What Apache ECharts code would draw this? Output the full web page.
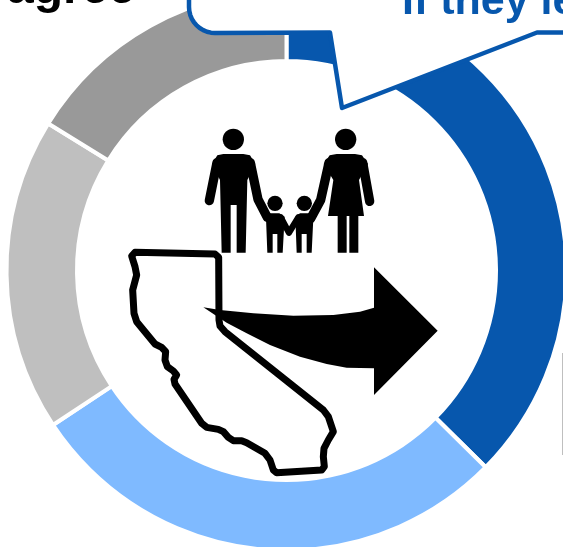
<!DOCTYPE html>
<html>
<head>
<meta charset="utf-8">
<style>
  html, body { margin: 0; padding: 0; background: #fff; }
  #main { width: 563px; height: 547px; }
</style>
<script src="https://cdn.jsdelivr.net/npm/echarts@6/dist/echarts.min.js"></script>
</head>
<body>
<div id="main"></div>
<script>
// share of each ring segment, clockwise from 12 o'clock
var segments = ['Segment 1', 'Segment 2', 'Segment 3', 'Segment 4'];
var shares = [37.4, 28.3, 18.1, 16.2];
var colors = ['#0757AD', '#7FBAFF', '#BFBFBF', '#999999'];
var blackLabel = 'agree';
var blueLabel = 'If they le';

var BLUE = '#0757AD';

var myChart = echarts.init(document.getElementById('main'));

// callout box, rounded bottom-left corner then the tail
var calloutPoints = [[189, -10]];
for (var i = 0; i <= 10; i++) {
  var a = Math.PI - (i / 10) * (Math.PI / 2);
  calloutPoints.push([215 + 26 * Math.cos(a), 7 + 26 * Math.sin(a)]);
}
calloutPoints.push([330, 32.5], [342, 108], [537, 32.5], [575, 32.5], [575, -10]);

var californiaPoints = [
  [45, 37], [285, 42], [296, 52], [297, 240], [300, 258], [315, 275], [610, 510], [625, 530],
  [640, 575], [625, 600], [612, 625], [610, 650], [613, 680], [605, 690], [470, 698], [460, 690],
  [450, 660], [435, 640], [380, 608], [365, 602], [340, 602], [325, 592], [310, 575], [295, 568],
  [260, 562], [245, 550], [165, 432], [162, 418], [170, 405], [160, 393], [142, 380], [135, 360],
  [137, 335], [125, 322], [105, 312], [50, 245], [42, 220], [38, 150], [50, 105], [45, 80], [35, 48]
];

var arrowPoints = [
  [250, 202], [300, 210], [400, 220], [520, 227], [640, 225], [720, 215], [762, 203],
  [762, 82], [953, 272], [762, 465], [762, 385], [680, 383], [620, 372], [540, 350],
  [450, 315], [380, 280], [320, 248]
];

function blob(points) {
  return { type: 'polygon', z: 10, shape: { points: points }, style: { fill: '#000' } };
}
function limb(points, width) {
  return {
    type: 'polyline', z: 10, shape: { points: points },
    style: { stroke: '#000', fill: 'none', lineWidth: width, lineCap: 'round', lineJoin: 'round' }
  };
}
function head(x, y, r) {
  return { type: 'circle', z: 10, shape: { cx: x, cy: y, r: r }, style: { fill: '#000' } };
}

// family icon, drawn in 3x coordinates and scaled down by the group
var family = [
  // man
  head(130, 58, 32),
  blob([[100, 102], [160, 102], [180, 106], [196, 132], [172, 180], [167, 398], [140, 398], [140, 255], [122, 255], [122, 398], [95, 398], [90, 180], [66, 132], [82, 106]]),
  limb([[81, 128], [58, 242]], 28),
  limb([[181, 128], [204, 238], [232, 292]], 28),
  // woman
  head(467, 58, 32),
  blob([[440, 102], [495, 102], [516, 106], [534, 132], [507, 180], [522, 288], [505, 288], [505, 398], [478, 398], [478, 288], [470, 288], [470, 398], [443, 398], [443, 288], [414, 288], [430, 180], [401, 132], [419, 106]]),
  limb([[417, 128], [392, 240], [362, 296]], 28),
  limb([[518, 128], [539, 244]], 28),
  // children
  head(255, 250, 23),
  blob([[238, 280], [268, 280], [284, 290], [278, 398], [262, 398], [262, 342], [248, 342], [248, 398], [232, 398], [228, 295]]),
  limb([[272, 292], [297, 338], [325, 292]], 19),
  head(343, 250, 23),
  blob([[330, 280], [358, 280], [370, 295], [365, 398], [350, 398], [350, 342], [335, 342], [335, 398], [320, 398], [316, 290]])
];

var option = {
  animation: false,
  series: [{
    type: 'pie',
    silent: true,
    center: [286.5, 270.5],
    radius: [209.5, 280],
    startAngle: 90,
    clockwise: true,
    label: { show: false },
    labelLine: { show: false },
    itemStyle: { borderColor: '#fff', borderWidth: 4 },
    data: segments.map(function (name, i) {
      return { name: name, value: shares[i], itemStyle: { color: colors[i] } };
    })
  }],
  graphic: [
    {
      type: 'polygon', z: 8, shape: { points: calloutPoints },
      style: { fill: '#fff', stroke: BLUE, lineWidth: 4.5, lineJoin: 'round' }
    },
    {
      type: 'text', z: 9, x: 7, y: -34,
      style: { text: blackLabel, fill: '#000', font: 'bold 48px "Liberation Sans"', verticalAlign: 'top' }
    },
    {
      type: 'text', z: 9, x: 402, y: -19,
      style: { text: blueLabel, fill: BLUE, font: 'bold 43px "Liberation Sans"', verticalAlign: 'top' }
    },
    { type: 'rect', z: 8, shape: { x: 562, y: 353, width: 1.5, height: 102 }, style: { fill: '#BFBFBF' } },
    { type: 'group', x: 190, y: 120, scaleX: 1 / 3, scaleY: 1 / 3, children: family },
    {
      type: 'group', x: 120, y: 240, scaleX: 1 / 3, scaleY: 1 / 3,
      children: [
        {
          type: 'polygon', z: 10, shape: { points: californiaPoints },
          style: { fill: 'none', stroke: '#000', lineWidth: 21, lineJoin: 'round' }
        },
        { type: 'polygon', z: 11, shape: { points: arrowPoints }, style: { fill: '#000' } }
      ]
    }
  ]
};

myChart.setOption(option);
</script>
</body>
</html>
